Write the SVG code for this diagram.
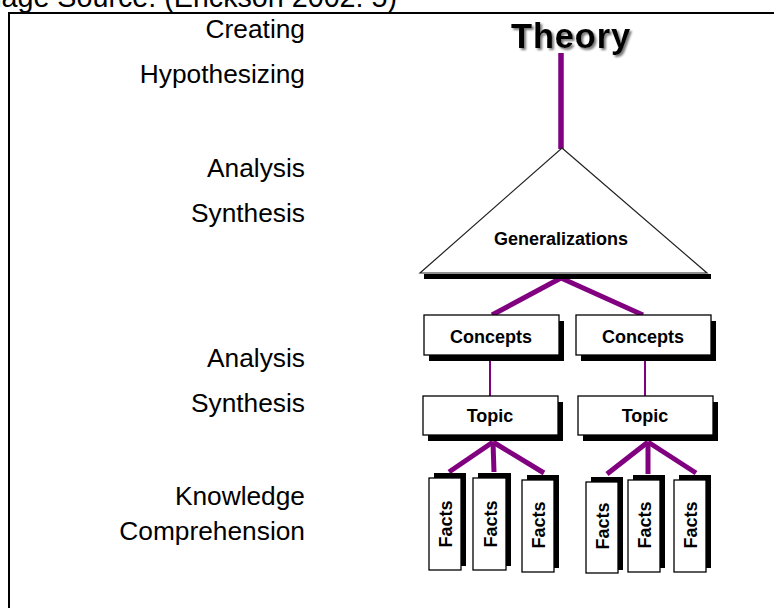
<svg xmlns="http://www.w3.org/2000/svg" width="774" height="608" viewBox="0 0 774 608">
<style>
.lbl{font-family:"Liberation Sans",Arial,sans-serif;font-size:26.3px;fill:#000;text-anchor:end}
.bx{font-family:"Liberation Sans",Arial,sans-serif;font-size:18px;font-weight:bold;fill:#000;text-anchor:middle}
.box{fill:#fff;stroke:#000;stroke-width:1.3}
.sh{fill:#000}
.pk{stroke:#800080;fill:none;stroke-linecap:butt}
</style>
<defs>
<filter id="shadow" x="-10%" y="-20%" width="130%" height="150%"><feDropShadow dx="2" dy="2" stdDeviation="1.2" flood-color="#666" flood-opacity="0.9"/></filter>
</defs>
<rect width="774" height="608" fill="#fff"/>
<g id="frame">
<line x1="8" y1="13" x2="774" y2="13" stroke="#000" stroke-width="2"/>
<line x1="9" y1="12" x2="9" y2="608" stroke="#000" stroke-width="2"/>
</g>
<text id="caption" x="397" y="7" font-family="Liberation Sans,Arial,sans-serif" font-size="28.7" text-anchor="end">Image Source: (Erickson 2002: 5)</text>
<g id="levels">
<text class="lbl" x="305" y="38">Creating</text>
<text class="lbl" x="305" y="83">Hypothesizing</text>
<text class="lbl" x="305" y="177">Analysis</text>
<text class="lbl" x="305" y="222">Synthesis</text>
<text class="lbl" x="305" y="367">Analysis</text>
<text class="lbl" x="305" y="412">Synthesis</text>
<text class="lbl" x="305" y="505">Knowledge</text>
<text class="lbl" x="305" y="540">Comprehension</text>
</g>
<g id="connectors">
<line class="pk" x1="561" y1="53" x2="561" y2="149" stroke-width="5.5"/>
<line class="pk" x1="561" y1="278" x2="492" y2="315" stroke-width="5"/>
<line class="pk" x1="561" y1="278" x2="643" y2="315" stroke-width="5"/>
<line class="pk" x1="490" y1="361" x2="490" y2="396" stroke-width="2"/>
<line class="pk" x1="645" y1="361" x2="645" y2="396" stroke-width="2"/>
<line class="pk" x1="493" y1="442" x2="449" y2="472" stroke-width="5"/>
<line class="pk" x1="493" y1="442" x2="494" y2="472" stroke-width="5"/>
<line class="pk" x1="493" y1="442" x2="544" y2="473" stroke-width="5"/>
<line class="pk" x1="648" y1="442" x2="607" y2="474" stroke-width="5"/>
<line class="pk" x1="648" y1="442" x2="648" y2="474" stroke-width="5"/>
<line class="pk" x1="648" y1="442" x2="696" y2="473" stroke-width="5"/>
</g>
<g id="theory">
<text x="571" y="48" font-family="Liberation Sans,Arial,sans-serif" font-size="34.5" font-weight="bold" text-anchor="middle" letter-spacing="0.8" fill="#000" filter="url(#shadow)">Theory</text>
</g>
<g id="generalizations">
<rect class="sh" x="424" y="274" width="287" height="5"/>
<polygon points="562,148 707,273 420,273" fill="#fff" stroke="#222" stroke-width="1.2"/>
<text class="bx" x="561" y="245">Generalizations</text>
</g>
<g id="concepts-left">
<rect class="sh" x="429" y="321" width="135" height="40"/>
<rect class="box" x="424" y="315" width="135" height="40"/>
<text class="bx" x="491" y="343">Concepts</text>
</g>
<g id="concepts-right">
<rect class="sh" x="581" y="321" width="135" height="40"/>
<rect class="box" x="576" y="315" width="135" height="40"/>
<text class="bx" x="643" y="343">Concepts</text>
</g>
<g id="topic-left">
<rect class="sh" x="428" y="402" width="135" height="39"/>
<rect class="box" x="423" y="396" width="135" height="39"/>
<text class="bx" x="490" y="422">Topic</text>
</g>
<g id="topic-right">
<rect class="sh" x="583" y="402" width="135" height="39"/>
<rect class="box" x="578" y="396" width="135" height="39"/>
<text class="bx" x="645" y="422">Topic</text>
</g>
<g id="facts-1">
<rect class="sh" x="434" y="473" width="32" height="93"/>
<rect class="box" x="429" y="478" width="32" height="92"/>
<text class="bx" transform="translate(452,524) rotate(-90)">Facts</text>
</g>
<g id="facts-2">
<rect class="sh" x="478" y="473" width="33" height="93"/>
<rect class="box" x="473" y="478" width="33" height="92"/>
<text class="bx" transform="translate(496.5,524) rotate(-90)">Facts</text>
</g>
<g id="facts-3">
<rect class="sh" x="527" y="475" width="32" height="93"/>
<rect class="box" x="522" y="480" width="32" height="92"/>
<text class="bx" transform="translate(545,525) rotate(-90)">Facts</text>
</g>
<g id="facts-4">
<rect class="sh" x="591" y="477" width="32" height="93"/>
<rect class="box" x="586" y="482" width="32" height="91"/>
<text class="bx" transform="translate(609,526) rotate(-90)">Facts</text>
</g>
<g id="facts-5">
<rect class="sh" x="633" y="475" width="32" height="93"/>
<rect class="box" x="628" y="480" width="32" height="92"/>
<text class="bx" transform="translate(651,525) rotate(-90)">Facts</text>
</g>
<g id="facts-6">
<rect class="sh" x="679" y="475" width="32" height="93"/>
<rect class="box" x="674" y="480" width="32" height="92"/>
<text class="bx" transform="translate(697,525) rotate(-90)">Facts</text>
</g>
</svg>
